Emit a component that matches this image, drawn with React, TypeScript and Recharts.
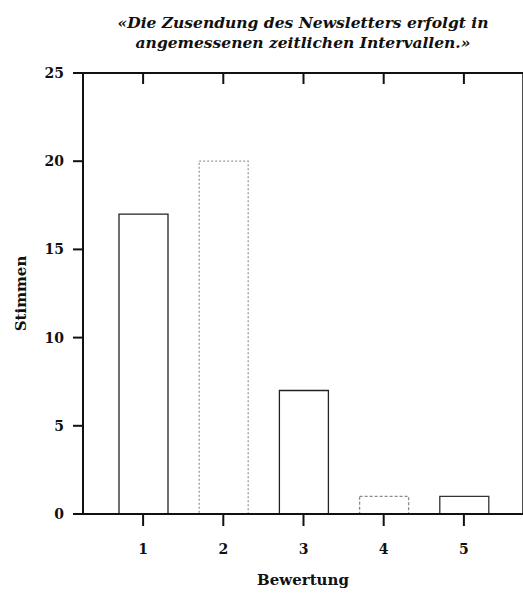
import { Bar, BarChart, Cell, XAxis, YAxis } from 'recharts';

const ratings = ['1', '2', '3', '4', '5'];
const votes = [17, 20, 7, 1, 1];
const voteTicks = [0, 5, 10, 15, 20, 25];
const titleLines = ['«Die Zusendung des Newsletters erfolgt in', 'angemessenen zeitlichen Intervallen.»'];
const xTitle = 'Bewertung';
const yTitle = 'Stimmen';

const data = ratings.map((rating, i) => ({ rating, votes: votes[i] }));

// outline look of each bar in the scan (some came out dotted/grey)
const outlines = [
  { stroke: '#222', dash: undefined },
  { stroke: '#9a9a9a', dash: '2 2' },
  { stroke: '#222', dash: undefined },
  { stroke: '#8a8a8a', dash: '3 2' },
  { stroke: '#333', dash: undefined },
];

const FONT = '"DejaVu Serif", Georgia, serif';
const INK = '#111';
const tickFont = { fill: INK, fontSize: 14, fontFamily: FONT, fontWeight: 700 };

// mirror axes only show their tick marks, no labels
const NoLabel = () => <g />;

function YTitle({ viewBox }: any) {
  const cx = viewBox.x + 21;
  const cy = viewBox.y + viewBox.height / 2;
  return (
    <text
      x={cx}
      y={cy}
      transform={`rotate(-90 ${cx} ${cy})`}
      textAnchor="middle"
      dominantBaseline="central"
      fill={INK}
      fontSize={15}
      fontFamily={FONT}
      fontWeight={600}
    >
      {yTitle}
    </text>
  );
}

export default function App() {
  return (
    <div style={{ position: 'absolute', left: 0, top: 0, width: 523, height: 593, background: '#fff' }}>
      <div
        style={{
          position: 'absolute',
          left: 83,
          top: 13,
          width: 440,
          textAlign: 'center',
          fontFamily: FONT,
          fontStyle: 'italic',
          fontWeight: 700,
          fontSize: 15.5,
          lineHeight: '20px',
          color: INK,
        }}
      >
        {titleLines.map((t) => (
          <div key={t}>{t}</div>
        ))}
      </div>
      <BarChart width={523} height={593} data={data} margin={{ top: 73, right: 0, bottom: 0, left: 0 }}>
        <XAxis
          dataKey="rating"
          height={79}
          padding={{ left: 20, right: 19 }}
          tickSize={12}
          tickMargin={18}
          tick={tickFont}
          axisLine={{ stroke: INK, strokeWidth: 2 }}
          tickLine={{ stroke: INK, strokeWidth: 2 }}
          label={{ value: xTitle, position: 'insideBottom', offset: 8, fill: INK, fontSize: 15, fontFamily: FONT, fontWeight: 600 }}
        />
        <XAxis
          xAxisId="top"
          dataKey="rating"
          orientation="top"
          mirror
          height={1}
          padding={{ left: 20, right: 19 }}
          tickSize={11}
          tick={NoLabel}
          axisLine={{ stroke: INK, strokeWidth: 2 }}
          tickLine={{ stroke: INK, strokeWidth: 2 }}
        />
        <YAxis
          width={83}
          domain={[0, 25]}
          ticks={voteTicks}
          tickSize={10}
          tickMargin={9}
          tick={tickFont}
          axisLine={{ stroke: INK, strokeWidth: 2 }}
          tickLine={{ stroke: INK, strokeWidth: 2 }}
          label={<YTitle />}
        />
        <YAxis
          yAxisId="right"
          orientation="right"
          mirror
          width={1}
          domain={[0, 25]}
          ticks={voteTicks}
          tickSize={9}
          tick={NoLabel}
          axisLine={{ stroke: INK, strokeWidth: 1.5 }}
          tickLine={{ stroke: INK, strokeWidth: 2 }}
        />
        <Bar dataKey="votes" barSize={49} fill="#fff" isAnimationActive={false}>
          {data.map((d, i) => (
            <Cell key={d.rating} stroke={outlines[i].stroke} strokeDasharray={outlines[i].dash} strokeWidth={1.3} />
          ))}
        </Bar>
      </BarChart>
    </div>
  );
}
